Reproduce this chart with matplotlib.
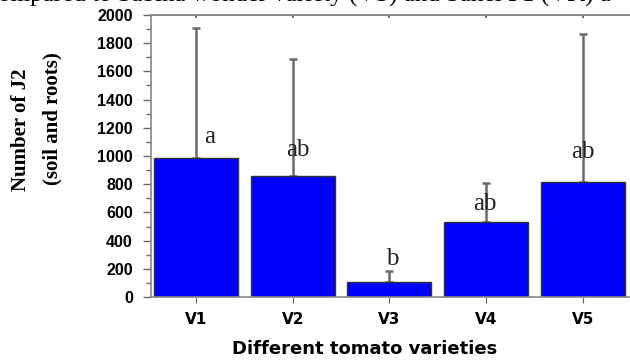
import matplotlib
matplotlib.use("Agg")
import matplotlib.pyplot as plt
from matplotlib.ticker import MultipleLocator

varieties = ["V1", "V2", "V3", "V4", "V5"]
means = [986, 858, 108, 534, 818]
errors_up = [920, 830, 76, 277, 1045]
letters = ["a", "ab", "b", "ab", "ab"]
letter_y = [1092, 1000, 227, 617, 986]
letter_dx = [0.145, 0.05, 0.03, -0.01, 0.0]

fig = plt.figure(figsize=(6.3, 3.61), dpi=100)
ax = fig.add_axes([151/630, 64/361, (630-151)/630, 282/361])

x = list(range(len(varieties)))
ax.bar(x, means, width=0.87, color="#0000FF", edgecolor="#333333", linewidth=1.0, zorder=2)
ax.errorbar(x, means, yerr=[[0]*5, errors_up], fmt="none", ecolor="#6a6a6a",
            elinewidth=1.8, capsize=3, capthick=1.8, zorder=1)

for xi, l, ly, dx in zip(x, letters, letter_y, letter_dx):
    ax.text(xi + dx, ly, l, ha="center", va="baseline",
            family="Liberation Serif", fontsize=18, color="#222222", zorder=3)

ax.set_xlim(-0.466, 4.49)
ax.set_ylim(0, 2000)
ax.set_xticks(x)
ax.set_xticklabels(varieties, family="DejaVu Sans", fontweight="bold", fontsize=11)
ax.set_yticks(range(0, 2001, 200))
ax.yaxis.set_minor_locator(MultipleLocator(100))
for lab in ax.get_yticklabels():
    lab.set_family("Liberation Sans")
    lab.set_fontweight("bold")
    lab.set_fontsize(11.5)

ax.tick_params(axis="y", which="both", direction="out", color="#666666", width=1, pad=7)
ax.tick_params(axis="y", which="major", length=6)
ax.tick_params(axis="y", which="minor", length=3.5)
ax.tick_params(axis="x", direction="out", length=4, color="#666666", pad=7)

top = ax.secondary_xaxis("top")
top.set_xticks(x)
top.set_xticklabels([])
top.tick_params(direction="in", length=2.5, color="#555555", width=1.2)
top.spines["top"].set_color("#888888")
top.spines["top"].set_linewidth(1.2)

for s in ["left", "bottom", "top"]:
    ax.spines[s].set_color("#888888")
    ax.spines[s].set_linewidth(1.2)
ax.spines["right"].set_visible(False)

fig.text(21/630, 1 - 130/361, "Number of J2", rotation=90, ha="center", va="center",
         family="Liberation Serif", fontweight="bold", fontsize=15)
fig.text(52/630, 1 - 119/361, "(soil and roots)", rotation=90, ha="center", va="center",
         family="Liberation Serif", fontweight="bold", fontsize=15)

fig.text(365/630, 1 - 349/361, "Different tomato varieties", ha="center", va="center",
         family="DejaVu Sans", fontweight="bold", fontsize=13)

fig.text(-13/630, 1 - 2/361, "compared to Sabina wonder variety (VS) and Sahel F1 (VK) a",
         ha="left", va="baseline", family="Liberation Serif", fontsize=18)

fig.savefig("out.png", dpi=100)
